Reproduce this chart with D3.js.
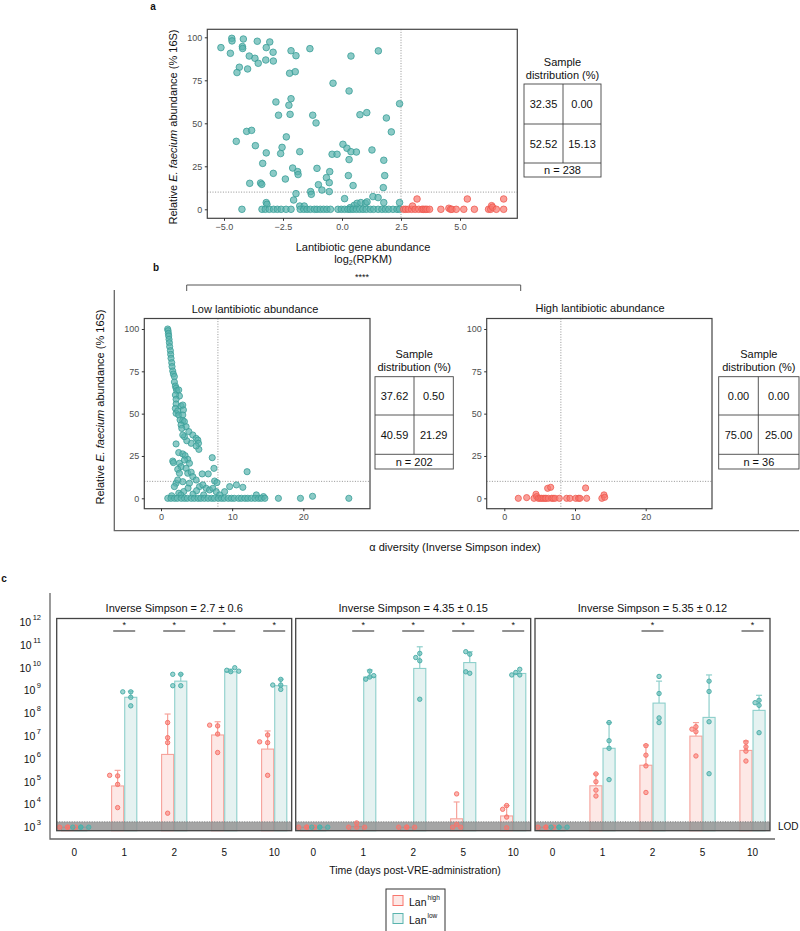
<!DOCTYPE html>
<html><head><meta charset="utf-8">
<script src="https://cdn.jsdelivr.net/npm/d3@7"></script>
<style>body{margin:0;background:#fff}svg{display:block}text{font-family:"Liberation Sans",Arial,Helvetica,sans-serif}</style>
</head><body><svg id="chart" width="800" height="931"></svg>
<script>
// ================= DATA =================
// Panel a: lantibiotic gene abundance (log2 RPKM) vs relative E. faecium abundance
const aLowX=[-5.13,-4.73,-4.67,-4.66,-4.18,-4.22,-4.21,-4.35,-4.45,-4.0,-3.93,-3.69,-3.59,-3.55,-3.23,-3.21,-3.06,-2.92,-2.91,-2.22,-2.16,-1.98,-1.95,-1.36,-0.38,0.38,0.30,1.54,
-2.80,-2.69,-2.16,-2.25,-2.2,-1.24,-1.10,0.76,1.05,1.88,2.09,2.44,
-4.04,-3.83,-4.48,-3.67,-2.54,-2.36,-2.6,-3.21,-1.79,-3.36,0.04,0.21,-0.42,-0.21,0.38,0.61,1.27,0.30,1.77,
-2.91,-2.40,-2.09,-1.88,-1.86,-1.06,-0.66,-0.52,-0.54,0.27,1.81,
-3.91,-3.45,-3.4,-1.0,0.47,1.75,
-1.33,-1.30,-0.85,-0.54,-1.95,-2.05,-3.21,-3.18,1.31,1.53,0.11,-1.79,-1.6,0.35,0.52,0.64,0.8,0.99,1.06,1.77,2.44,
-4.24,-3.39,-3.25,-3.08,-2.90,-2.74,-2.58,-2.37,-2.16,-1.77,-1.62,-1.48,-1.34,-1.17,-1.06,-0.92,-0.78,-0.64,-0.49,-0.17,-0.03,0.11,0.25,0.35,0.47,0.61,0.75,0.89,1.03,1.20,1.34,1.53,1.69,1.84,1.98,2.16,2.33,2.44];
const aLowY=[94.0,90.7,99.4,97.9,99.0,94.6,93.5,82.6,79.5,81.6,89.1,87.8,97.7,84.9,86.8,94.0,97.3,91.3,86.2,79.1,92.2,80.0,89.3,93.4,73.3,89.1,68.8,92.1,
62.4,54.7,64.3,60.5,55.2,54.7,50.2,55.0,56.2,53.1,45.0,61.4,
45.3,45.9,39.5,37.0,36.0,42.1,32.4,32.8,33.5,26.7,37.8,35.5,32.0,32.0,33.5,33.3,34.5,28.9,28.5,
20.9,17.6,24.0,21.9,20.2,23.8,18.4,21.9,15.5,19.6,19.6,
15.1,15.3,14.5,14.3,13.8,12.6,
10.3,8.7,11.2,10.3,9.1,5.4,3.9,2.9,7.4,6.8,6.2,1.9,1.9,1.0,2.3,3.5,3.9,3.5,4.3,3.9,3.9,
0,0,0,0,0,0,0,0,0,0,0,0,0,0,0,0,0,0,0,0,0,0,0,0,0,0,0,0,0,0,0,0,0,0,0,0,0,0];
const aHighX=[2.61,2.70,2.81,2.95,2.99,3.10,3.18,3.25,3.39,3.45,3.53,3.60,3.71,4.19,4.53,4.60,4.66,4.84,5.16,5.31,5.61,6.21,6.30,6.34,6.38,6.54,6.85,6.85];
const aHighY=[0,0,0,0,1.9,0,6.0,0,0,0,0,0,0,0,0.6,0,0,0,0,6.0,0,0,0,2.1,1.2,0,6.0,0];
const aXTicks=[-5,-2.5,0,2.5,5];
const aYTicks=[0,25,50,75,100];
const aTable=["32.35","0.00","52.52","15.13"];
const aN="n = 238";

// Panel b: alpha diversity vs relative E. faecium abundance
const bLowX=[0.94,0.99,1.04,1.08,1.13,1.18,1.22,1.32,1.36,1.41,1.51,1.55,1.65,1.74,1.88,1.88,2.02,2.12,2.21,2.49,2.59,2.02,2.12,2.12,2.02,2.12,2.35,2.49,2.82,3.06,3.15,3.06,2.68,3.06,3.29,3.53,2.82,2.92,3.91,4.47,4.94,5.18,5.27,5.32,4.94,4.24,3.62,3.29,3.06,2.12,1.65,1.74,2.49,3.06,3.39,3.76,4.0,3.29,2.59,2.82,2.35,2.59,3.53,3.76,4.24,4.47,5.79,6.64,7.2,7.44,7.53,7.86,12.1,2.12,1.88,2.35,3.06,4.0,4.94,5.41,5.88,6.35,6.82,7.29,7.76,8.94,9.65,10.6,11.5,8.24,13.4,14.4,21.3,2.5,3.2,4.5,5.0,6.0,3.8,2.8,1.5,
0.95,1.4,1.9,2.3,2.85,3.3,3.7,4.25,4.7,5.2,5.6,6.1,6.6,7.1,7.5,8.05,8.5,8.9,9.45,9.9,10.3,10.9,11.3,11.8,12.2,12.7,13.2,13.7,14.1,14.6,16.5,19.6,26.4];
const bLowY=[100,99,97.4,95.9,93.9,91.9,89.6,87.2,85,82.7,80.1,77.8,75.2,73.4,71.9,68.7,66.3,65,63.6,64,60.4,61,58.5,55.7,53.1,50.2,51.6,49.2,54.5,55.1,52.2,49.2,46.3,45.9,45.3,42.3,43.3,41.3,39.4,37.4,35.4,34.4,32.5,28.9,30.9,32.5,34,36.4,37.4,32.1,22,21.1,27,26.2,25.2,23,20.7,22.6,20.7,18.7,17.1,14.8,17.7,14.8,15.4,12.8,14.4,14.4,24,17.7,10.2,9.3,15.7,8.9,6.9,10.8,9.8,8.9,10.8,6.9,7.9,5.9,4.9,5.9,3.9,3.9,6.9,7.9,6.5,2,2,1,1.2,3,4,2.5,4.5,2,6,2,1.5,
0,0,0,0,0,0,0,0,0,0,0,0,0,0,0,0,0,0,0,0,0,0,0,0,0,0,0,0,0,0,0,0,0];
const bHighX=[1.98,3.16,4.2,4.48,4.58,4.81,5.05,5.28,5.5,5.75,5.9,6.13,6.56,6.23,6.7,6.9,7.17,7.78,8.82,9.29,10.1,10.5,10.7,11.5,11.65,13.8,14.1,14.2];
const bHighY=[0,0.4,0,2.4,1,0,0,0,0,0,0,5.9,6.5,0,0,0,0,0,0,0,0,0,0,6.1,0,0,2,0.6];
const bXTicks=[0,10,20];
const bYTicks=[0,25,50,75,100];
const bTitles=["Low lantibiotic abundance","High lantibiotic abundance"];
const bTableLow=["37.62","0.50","40.59","21.29"];
const bTableHigh=["0.00","0.00","75.00","25.00"];
const bNLow="n = 202", bNHigh="n = 36";

// Panel c: VRE burden (CFU/g feces) per day, Lan-high vs Lan-low
const cDays=["0","1","2","5","10"];
const cTitles=["Inverse Simpson = 2.7 \u00b1 0.6","Inverse Simpson = 4.35 \u00b1  0.15","Inverse Simpson =  5.35 \u00b1  0.12"];
const cHighMean=[[900,5.8e4,1.4e6,1.0e7,2.4e6],[900,950,900,2.1e3,2.8e3],[900,5.9e4,4.7e5,8.9e6,2.1e6]];
const cHighErr=[[null,2.8e5,8.3e7,3.8e7,1.5e7],[null,null,null,1.15e4,8e3],[null,1.95e5,3.6e6,3.5e7,5.4e6]];
const cHighPts=[
 [[900,900,900,900],[1.6e5,1.7e5,6.8e4,6.5e3],[3.5e7,7.6e6,4.6e6,3.7e3],[2.5e7,2.7e7,1.1e7,1.7e6],[4.6e6,5.0e6,1.0e7,1.7e5]],
 [[900,900,900,900],[900,900,900,1380],[900,900,900,900],[2.6e4,1.2e3,900,900],[8e3,5.5e3,2.5e3,850]],
 [[900,900,900,900],[1.95e5,8.9e4,3.8e4,2.1e4],[3.4e6,1.3e6,4.4e5,3.0e4],[2.3e7,1.4e7,1.8e7,1.2e6],[4.8e6,3.0e6,1.95e6,7.2e5]]];
const cLowMean=[[900,4.5e8,2.3e9,5.9e9,1.45e9],[900,3.5e9,8.3e9,1.5e10,5.0e9],[900,2.6e6,2.5e8,5.9e7,1.2e8]];
const cLowErr=[[null,8.3e8,4.7e9,7.8e9,2.8e9],[null,7.1e9,7.4e10,4.5e10,null],[null,3.5e7,2.3e9,4.3e9,5.5e8]];
const cLowPts=[
 [[900,900,900,900],[7.8e8,7.8e8,4.5e8,1.9e8],[4.6e9,4.6e9,1.45e9,1.45e9],[6.0e9,6.9e9,6.3e9,8.9e9],[1.55e9,1.55e9,2.75e9,1.0e9]],
 [[900,900,900,900],[3.5e9,2.8e9,6.3e9,4.0e9],[3.8e10,1.8e10,2.5e10,3.7e8],[3.5e10,4.5e10,5.1e9,5.9e9],[4.3e9,5.5e9,7.6e9,4.3e9]],
 [[900,900,900,900],[3.5e7,5.6e6,2.6e6,1.1e5],[3.7e9,6.6e8,5.6e7,3.5e7],[2.3e9,8.1e8,3.8e7,2.0e5],[3.3e8,2.0e8,2.6e8,1.26e7]]];
const cSig=[[false,true,true,true,true],[false,true,true,true,true],[false,false,true,false,true]];
const cLOD=1550;
const cYExp=[3,4,5,6,7,8,9,10,11,12];
const legendLabels=[["Lan","high"],["Lan","low"]];

// ================= DRAWING =================
const svg=d3.select("#chart");
const TEAL="#5ab4ae", TEAL_S="#3a9e98", RED="#f8766d", RED_S="#ef5a50";

function label(x,y,s,o={}){
  const t=svg.append("text").attr("x",x).attr("y",y).text(s)
    .attr("text-anchor",o.anchor||"middle").attr("dominant-baseline",o.base||"central")
    .style("font-size",(o.size||11)+"px").attr("fill",o.fill||"#111");
  if(o.bold) t.style("font-weight","bold");
  return t;
}
function box(b,stroke="#333",w=1){
  svg.append("rect").attr("x",b.x0).attr("y",b.y0).attr("width",b.x1-b.x0).attr("height",b.y1-b.y0)
    .attr("fill","none").attr("stroke",stroke).attr("stroke-width",w);
}
function axes(sx,sy,xt,yt,b,fmt){
  const xa=svg.append("g").attr("transform",`translate(0,${b.y1})`)
    .call(d3.axisBottom(sx).tickValues(xt).tickSize(2.5).tickPadding(2.5).tickFormat(fmt||null));
  const ya=svg.append("g").attr("transform",`translate(${b.x0},0)`)
    .call(d3.axisLeft(sy).tickValues(yt).tickSize(2.5).tickPadding(2.5));
  [xa,ya].forEach(a=>{a.select(".domain").remove();a.selectAll("line").attr("stroke","#333");
    a.selectAll("text").attr("fill","#4d4d4d").style("font-size","9px").style("font-family",'"Liberation Sans",Arial,sans-serif');});
}
function dotted(x1,y1,x2,y2){
  svg.append("line").attr("x1",x1).attr("y1",y1).attr("x2",x2).attr("y2",y2)
    .attr("stroke","#777").attr("stroke-width",0.8).attr("stroke-dasharray","1,1.6");
}
function scatter(xs,ys,sx,sy,fill,stroke,r){
  svg.append("g").selectAll("circle").data(d3.range(xs.length)).join("circle")
    .attr("cx",i=>sx(xs[i])).attr("cy",i=>sy(ys[i])).attr("r",r)
    .attr("fill",fill).attr("fill-opacity",0.7).attr("stroke",stroke).attr("stroke-width",0.8);
}
function table(x0,xm,x1,ys,vals,n,titleY){
  const cx=(x0+x1)/2;
  label(cx,titleY,"Sample");
  label(cx,titleY+13,"distribution (%)");
  svg.append("rect").attr("x",x0).attr("y",ys[0]).attr("width",x1-x0).attr("height",ys[3]-ys[0])
    .attr("fill","none").attr("stroke","#444").attr("stroke-width",0.9);
  [ys[1],ys[2]].forEach(y=>svg.append("line").attr("x1",x0).attr("x2",x1).attr("y1",y).attr("y2",y).attr("stroke","#444").attr("stroke-width",0.9));
  svg.append("line").attr("x1",xm).attr("x2",xm).attr("y1",ys[0]).attr("y2",ys[2]).attr("stroke","#444").attr("stroke-width",0.9);
  label((x0+xm)/2,(ys[0]+ys[1])/2,vals[0]);
  label((xm+x1)/2,(ys[0]+ys[1])/2,vals[1]);
  label((x0+xm)/2,(ys[1]+ys[2])/2,vals[2]);
  label((xm+x1)/2,(ys[1]+ys[2])/2,vals[3]);
  label(cx,(ys[2]+ys[3])/2,n);
}
function yTitle(x,y){
  const t=svg.append("text").attr("transform",`translate(${x},${y}) rotate(-90)`)
    .attr("text-anchor","middle").attr("dominant-baseline","central").style("font-size","11px").attr("fill","#111");
  t.append("tspan").text("Relative ");
  t.append("tspan").style("font-style","italic").text("E. faecium");
  t.append("tspan").text(" abundance (% 16S)");
}

// ---------- Panel a ----------
label(153,6,"a",{bold:true,size:10});
const aB={x0:207.3,x1:517.3,y0:29.3,y1:218.3};
const ax=d3.scaleLinear().domain([-5,5]).range([224,460]);
const ay=d3.scaleLinear().domain([0,100]).range([209.3,37.3]);
dotted(ax(2.5),aB.y0,ax(2.5),aB.y1);
dotted(aB.x0,ay(10),aB.x1,ay(10));
scatter(aLowX,aLowY,ax,ay,TEAL,TEAL_S,3.3);
scatter(aHighX,aHighY,ax,ay,RED,RED_S,3.3);
box(aB,"#444",1.2);
axes(ax,ay,aXTicks,aYTicks,aB,d3.format(".1f"));
yTitle(173,127);
label(363,247,"Lantibiotic gene abundance");
{ const t=label(363,259,"log"); t.append("tspan").attr("dy",3).style("font-size","7px").text("2");
  t.append("tspan").attr("dy",-3).text("(RPKM)"); }
table(524,563,601,[84,124,163,177],aTable,aN,62);

// ---------- Panel b ----------
label(156,267,"b",{bold:true,size:10});
label(362,277,"****",{size:9});
svg.append("path").attr("d","M186.7,291V285H520.7V291").attr("fill","none").attr("stroke","#555").attr("stroke-width",1);
svg.append("path").attr("d","M114.3,290V530.7H799").attr("fill","none").attr("stroke","#666").attr("stroke-width",1.3);
const bLB={x0:144.3,x1:370,y0:318.5,y1:508.7};
const bHB={x0:486.7,x1:712,y0:318.5,y1:508.7};
const bxL=d3.scaleLinear().domain([0,20]).range([161,303.3]);
const bxH=d3.scaleLinear().domain([0,20]).range([504.3,645.7]);
const byS=d3.scaleLinear().domain([0,100]).range([498.3,329]);
dotted(bxL(8),bLB.y0,bxL(8),bLB.y1); dotted(bLB.x0,byS(10),bLB.x1,byS(10));
dotted(bxH(8),bHB.y0,bxH(8),bHB.y1); dotted(bHB.x0,byS(10),bHB.x1,byS(10));
scatter(bLowX,bLowY,bxL,byS,TEAL,TEAL_S,3.1);
scatter(bHighX,bHighY,bxH,byS,RED,RED_S,3.1);
box(bLB,"#444",1.2); box(bHB,"#444",1.2);
axes(bxL,byS,bXTicks,bYTicks,bLB);
axes(bxH,byS,bXTicks,bYTicks,bHB);
label(255,309,bTitles[0]);
label(600,308,bTitles[1]);
table(375,414,453.3,[376.7,415,454.3,469],bTableLow,bNLow,354);
table(718.7,758.3,799,[376.7,415,454.3,469],bTableHigh,bNHigh,354);
yTitle(100,407);
label(455,547,"\u03b1 diversity (Inverse Simpson index)");

// ---------- Panel c ----------
label(4,578,"c",{bold:true,size:10});
svg.append("path").attr("d","M50,593V839H775").attr("fill","none").attr("stroke","#666").attr("stroke-width",1.3);
const cBoxX=[[56.7,291.7],[295.7,530.7],[535,770]];
const cTop=618.5, cBot=830.7;
const cy=d3.scaleLog().domain([10**2.8,10**12.11]).range([cBot,cTop]);
const sub=d3.scaleBand().domain(["high","low"]).range([-12.6,12.6]).paddingInner(0.08);
// y tick labels
cYExp.forEach(e=>{
  const t=label(41,cy(10**e)+1,"10",{anchor:"end",size:10.5});
  t.append("tspan").attr("dx",1.5).attr("dy",-5).style("font-size","7.5px").text(String(e));
});
const yLOD=cy(cLOD);
function swarm(vals,cx){
  const placed=[];const offs=[0,-4,4,-8,8];
  return vals.map(v=>{const y=cy(v);
    for(const o of offs){ if(placed.every(p=>Math.hypot(p[0]-(cx+o),p[1]-y)>4.2)){placed.push([cx+o,y]);return [cx+o,y];} }
    placed.push([cx,y]);return [cx,y];});
}
cBoxX.forEach((bx,pi)=>{
  const xs=d3.scalePoint().domain(cDays).range(bx).padding(0.35);
  const g=svg.append("g");
  const groups=[{k:"high",mean:cHighMean[pi],err:cHighErr[pi],pts:cHighPts[pi],fill:"#fde8e6",stroke:"#f6a39b",pc:RED},
                {k:"low",mean:cLowMean[pi],err:cLowErr[pi],pts:cLowPts[pi],fill:"#e5f2f1",stroke:"#8dcfcb",pc:"#4fb0ab"}];
  // bars
  groups.forEach(G=>{
    g.selectAll(null).data(cDays).join("rect")
      .attr("x",d=>xs(d)+sub(G.k)).attr("width",sub.bandwidth())
      .attr("y",(d,i)=>cy(G.mean[i])).attr("height",(d,i)=>cBot-cy(G.mean[i]))
      .attr("fill",G.fill).attr("stroke",G.stroke).attr("stroke-width",1.1);
  });
  // LOD band
  g.append("rect").attr("x",bx[0]).attr("width",bx[1]-bx[0]).attr("y",yLOD).attr("height",cBot-yLOD)
    .attr("fill","#8f8f8f").attr("fill-opacity",0.8);
  g.append("line").attr("x1",bx[0]).attr("x2",bx[1]).attr("y1",yLOD).attr("y2",yLOD)
    .attr("stroke","#666").attr("stroke-width",0.8).attr("stroke-dasharray","1,1.5");
  // error bars and points
  groups.forEach(G=>{
    cDays.forEach((d,i)=>{
      const cx=xs(d)+sub(G.k)+sub.bandwidth()/2;
      if(G.err[i]!=null){
        g.append("line").attr("x1",cx).attr("x2",cx).attr("y1",cy(G.mean[i])).attr("y2",cy(G.err[i])).attr("stroke",G.stroke).attr("stroke-width",1.2);
        g.append("line").attr("x1",cx-3).attr("x2",cx+3).attr("y1",cy(G.err[i])).attr("y2",cy(G.err[i])).attr("stroke",G.stroke).attr("stroke-width",1.2);
      }
      g.selectAll(null).data(swarm(G.pts[i],cx)).join("circle")
        .attr("cx",p=>p[0]).attr("cy",p=>p[1]).attr("r",2.2)
        .attr("fill",G.pc).attr("fill-opacity",0.55).attr("stroke",G.pc).attr("stroke-width",1);
    });
  });
  // significance
  cDays.forEach((d,i)=>{ if(cSig[pi][i]){
    g.append("line").attr("x1",xs(d)-11).attr("x2",xs(d)+11).attr("y1",631).attr("y2",631).attr("stroke","#555").attr("stroke-width",1.3);
    label(xs(d),625,"*",{size:9});
  }});
  box({x0:bx[0],x1:bx[1],y0:cTop,y1:cBot},"#444",1.3);
  label((bx[0]+bx[1])/2,607.5,cTitles[pi]);
  cDays.forEach(d=>label(xs(d),852,d,{size:10}));
});
label(778,826,"LOD",{anchor:"start",size:10});
label(415,870,"Time (days post-VRE-administration)",{size:10.5});
// legend
svg.append("rect").attr("x",386).attr("y",889).attr("width",59).attr("height",44).attr("fill","#fff").attr("stroke","#333").attr("stroke-width",1);
legendLabels.forEach((L,i)=>{
  const y=900.5+i*18;
  svg.append("rect").attr("x",393).attr("y",y-5).attr("width",10).attr("height",10)
    .attr("fill",i?"#e5f2f1":"#fde8e6").attr("stroke",i?"#5ab4ae":"#f8766d").attr("stroke-width",1);
  const t=label(409,y+1,L[0],{anchor:"start",size:10.5});
  t.append("tspan").attr("dx",1).attr("dy",-5).style("font-size","6.5px").text(L[1]);
});
</script></body></html>
